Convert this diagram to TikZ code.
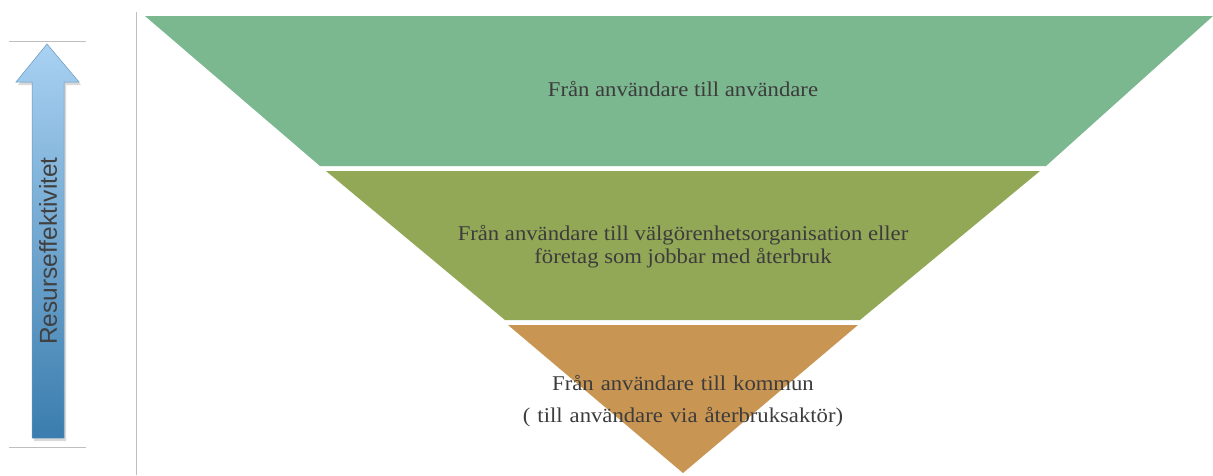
\documentclass[tikz,border=0pt]{standalone}
\usepackage{fontspec}
\setmainfont[FakeStretch=1.08]{Liberation Serif}
\newfontfamily\arrowfont{Liberation Sans}
\usepackage{tikz}
\definecolor{nivaett}{HTML}{7BB78F}
\definecolor{nivatva}{HTML}{93A856}
\definecolor{nivatre}{HTML}{C99552}
\definecolor{pilljus}{HTML}{A9D1F2}
\definecolor{pilmork}{HTML}{3A7DAE}
\definecolor{texgra}{HTML}{3C3C3C}
\tikzset{
  nivatext/.style={text=texgra, font=\fontsize{21}{23}\selectfont, align=center, inner sep=0pt},
  ramlinje/.style={draw=black!25, line width=0.8pt}
}
\begin{document}
\begin{tikzpicture}[x=1pt,y=-1pt]
		\useasboundingbox (0,0) rectangle (1213,475);
		% Ramlinjer
		\draw [ramlinje] (9,41) -- (86,41);
		\draw [ramlinje] (9,447) -- (86,447);
		\draw [ramlinje] (136,12) -- (136,475);
		% Pil (skugga)
		\fill [black, opacity=0.15] (34,441) -- (34,85) -- (18,85) -- (49,47) -- (81,85) -- (66,85) -- (66,441) -- cycle;
		% Pil
		\shade [top color=pilljus, bottom color=pilmork, draw=pilmork!80, line width=0.5pt]
			(32,438) -- (32,82) -- (16,82) -- (47,44) -- (79,82) -- (64,82) -- (64,438) -- cycle;
		\node (resurs) [rotate=90, text=black!75, font=\arrowfont\fontsize{24.5}{27}\selectfont] at (48,251) {Resurseffektivitet};
		
		% Nivå 1
		\fill [nivaett] (145,16) -- (1213,16) -- (1046,166) -- (320,166) -- cycle;
		\node (anvandare) [nivatext] at (683,89) {Från användare till användare};
		% Nivå 2
		\fill [nivatva] (326,171) -- (1040,171) -- (860,320) -- (505,320) -- cycle;
		\node (valgorenhet) [nivatext] at (683,247) {Från användare till välgörenhetsorganisation eller\\företag som jobbar med återbruk};
		% Nivå 3
		\fill [nivatre] (508,325) -- (858,325) -- (683,473) -- cycle;
		\node (kommun) [nivatext, align=center, text width=0pt] at (683,401) {\makebox[0pt]{Från användare till kommun}\\[9pt]\makebox[0pt]{( till användare via återbruksaktör)}};
	\end{tikzpicture}
\end{document}
